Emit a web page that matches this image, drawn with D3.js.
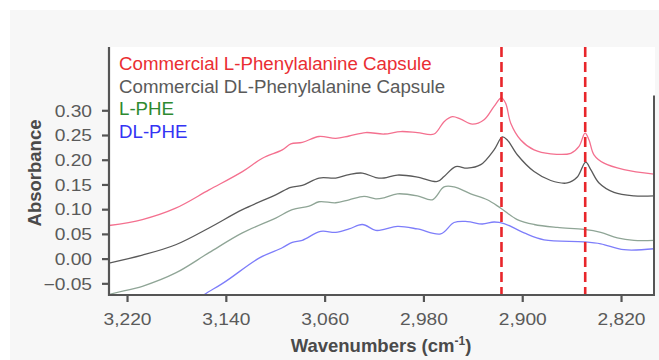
<!DOCTYPE html>
<html><head><meta charset="utf-8">
<script src="https://cdn.jsdelivr.net/npm/d3@7"></script>
<style>
html,body{margin:0;padding:0;background:#fff;}
svg{display:block;font-family:"Liberation Sans",Arial,sans-serif;}
</style></head>
<body>
<svg id="chart" width="659" height="360"></svg>
<script>
// ---- data ----
const seriesNames = ["Commercial L-Phenylalanine Capsule","Commercial DL-Phenylalanine Capsule","L-PHE","DL-PHE"];
const commercialL = [[3234.6,0.067],[3207.6,0.079],[3180.6,0.102],[3153.6,0.139],[3126.6,0.176],[3110.4,0.203],[3094.3,0.220],[3087.4,0.232],[3078.1,0.235],[3064.5,0.247],[3051,0.243],[3040.2,0.248],[3026.7,0.255],[3011.9,0.252],[2998.4,0.257],[2984.9,0.255],[2971.4,0.252],[2963.3,0.277],[2956.6,0.287],[2949.8,0.282],[2940.4,0.272],[2930.9,0.281],[2922.8,0.308],[2916.9,0.325],[2913.4,0.314],[2909.3,0.274],[2901.2,0.240],[2890.4,0.220],[2876.9,0.212],[2860.7,0.213],[2854,0.227],[2849.1,0.254],[2845.9,0.240],[2841.9,0.210],[2833.8,0.193],[2817.6,0.180],[2793.3,0.171]];
const commercialDL = [[3234.6,-0.009],[3207.6,0.007],[3180.6,0.028],[3153.6,0.062],[3126.6,0.099],[3099.6,0.129],[3087.4,0.144],[3078.1,0.148],[3064.5,0.163],[3051,0.163],[3040.2,0.170],[3029.5,0.173],[3018.6,0.164],[3011.9,0.163],[3001.1,0.169],[2984.9,0.165],[2968.7,0.156],[2963.3,0.166],[2953.9,0.186],[2944.5,0.183],[2933.6,0.190],[2922.8,0.220],[2916.1,0.246],[2912.1,0.240],[2904,0.210],[2890.4,0.176],[2876.9,0.158],[2863.5,0.153],[2855.4,0.165],[2848.6,0.195],[2844.5,0.180],[2837.8,0.153],[2825.7,0.134],[2809.5,0.127],[2793.3,0.127]];
const lPHE = [[3240,-0.080],[3234.6,-0.073],[3207.6,-0.056],[3180.6,-0.029],[3153.6,0.012],[3126.6,0.052],[3099.6,0.082],[3086.2,0.099],[3072.6,0.106],[3064.5,0.115],[3051,0.113],[3040.2,0.119],[3028.1,0.126],[3018.6,0.121],[3011.9,0.123],[3001.1,0.131],[2984.9,0.127],[2972.8,0.119],[2963.3,0.145],[2955.2,0.145],[2941.7,0.131],[2928.3,0.119],[2917.4,0.102],[2904,0.079],[2890.4,0.069],[2871.6,0.063],[2850,0.059],[2836.4,0.053],[2823,0.042],[2809.5,0.037],[2793.3,0.037]];
const dlPHE = [[3166,-0.088],[3157.7,-0.073],[3140.1,-0.046],[3113.1,0.001],[3094.3,0.022],[3086.2,0.033],[3078.1,0.037],[3063.2,0.055],[3051,0.053],[3040.2,0.060],[3029.5,0.069],[3018.6,0.057],[3011.9,0.059],[3001.1,0.065],[2984.9,0.060],[2966,0.050],[2955.2,0.073],[2944.5,0.075],[2932.3,0.070],[2922.8,0.074],[2914.7,0.071],[2898.5,0.052],[2882.3,0.038],[2850,0.034],[2836.4,0.030],[2817.6,0.018],[2793.3,0.020]];
const markerLines = [2916.8, 2849];
const xTicks = [3220,3140,3060,2980,2900,2820];
const yTicks = [-0.05,0,0.05,0.10,0.15,0.20,0.25,0.30];
const xDomain = [3234.6, 2793.3];
const yDomain = [-0.0736, 0.428];

// ---- styles ----
const lineColors = ["#f4708f","#5a5a5a","#8fa596","#7d7dfa"];
const textColors = ["#ea2e33","#5a5a5a","#2e8a30","#3434f4"];

const svg = d3.select("#chart");
svg.append("rect").attr("x",10).attr("y",10).attr("width",649).attr("height",350).attr("fill","#f7f7f7");

const m = {l:109, r:654, t:47, b:295};
svg.append("rect").attr("x",m.l).attr("y",m.t).attr("width",m.r-m.l+1).attr("height",m.b-m.t).attr("fill","#fff");

const x = d3.scaleLinear().domain(xDomain).range([m.l, m.r]);
const y = d3.scaleLinear().domain(yDomain).range([m.b, m.t]);

svg.append("clipPath").attr("id","clip").append("rect")
  .attr("x",m.l).attr("y",m.t).attr("width",m.r-m.l).attr("height",m.b-m.t);

const line = d3.line().x(d=>x(d[0])).y(d=>y(d[1])).curve(d3.curveCatmullRom.alpha(0.5));
const plot = svg.append("g").attr("clip-path","url(#clip)");
[commercialL, commercialDL, lPHE, dlPHE].forEach((s,i)=>{
  plot.append("path").datum(s).attr("d",line).attr("fill","none")
    .attr("stroke",lineColors[i]).attr("stroke-width",1.3);
});

// dashed markers
svg.selectAll(".mk").data(markerLines).enter().append("line")
  .attr("x1",d=>x(d)).attr("x2",d=>x(d)).attr("y1",m.t).attr("y2",m.b)
  .attr("stroke","#e8262b").attr("stroke-width",2.6).attr("stroke-dasharray","10,5");

// axes
const axColor = "#555";
const sx = 1.2;
const xAxis = svg.append("g").attr("transform",`translate(0,${m.b})`)
  .call(d3.axisBottom(x).tickValues(xTicks).tickFormat(d3.format(",")).tickSize(7).tickSizeOuter(0));
const yAxis = svg.append("g").attr("transform",`translate(${m.l},0)`)
  .call(d3.axisLeft(y).tickValues(yTicks).tickFormat(d3.format(".2f")).tickSize(7).tickSizeOuter(0));
[xAxis,yAxis].forEach(g=>{
  g.select(".domain").attr("stroke",axColor).attr("stroke-width",2.2);
  g.selectAll(".tick line").attr("stroke",axColor).attr("stroke-width",2.2);
  g.selectAll(".tick text").attr("fill","#5a5a5a").attr("font-size",16)
    .attr("font-family","'Liberation Sans',Arial,sans-serif").attr("transform",`scale(${sx},1)`);
});
xAxis.select(".domain").attr("d",`M${m.l-1},0H${m.r+1}`);
yAxis.select(".domain").attr("d",`M0,${m.t}V${m.b+1}`);
xAxis.selectAll(".tick text").attr("y",30).attr("dy",0);
yAxis.selectAll(".tick text").attr("x",-17/sx).attr("dy","0.36em");
// right border
svg.append("line").attr("x1",m.r).attr("x2",m.r).attr("y1",y(0.33)).attr("y2",m.b)
  .attr("stroke",axColor).attr("stroke-width",2);

// legend
const leg = svg.append("g");
seriesNames.forEach((n,i)=>{
  leg.append("text").attr("x",m.l+10).attr("y",70+i*22.5).attr("fill",textColors[i])
    .attr("font-size",18.7).text(n);
});

// axis titles
svg.append("text").attr("transform",`translate(41,${(m.t+m.b)/2+2}) rotate(-90)`)
  .attr("text-anchor","middle").attr("font-weight","bold").attr("font-size",18.5).attr("fill","#4a4a4a")
  .text("Absorbance");
const xt = svg.append("text").attr("x",381).attr("y",352).attr("text-anchor","middle")
  .attr("font-weight","bold").attr("font-size",18.5).attr("fill","#4a4a4a");
xt.append("tspan").text("Wavenumbers (cm");
xt.append("tspan").attr("dy",-7).attr("font-size",12).text("-1");
xt.append("tspan").attr("dy",7).text(")");
</script>
</body></html>
